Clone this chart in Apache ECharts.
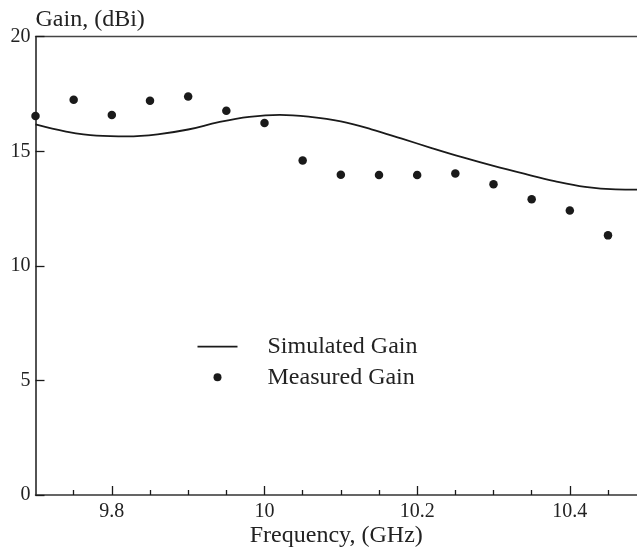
<!DOCTYPE html>
<html>
<head>
<meta charset="utf-8">
<script src="https://cdn.jsdelivr.net/npm/echarts@6/dist/echarts.min.js"></script>
<style>
html,body{margin:0;padding:0;background:#fff;}
#chart{width:637px;height:550px;}
</style>
</head>
<body>
<div id="chart"></div>
<script>
// Simulated gain curve (frequency GHz, gain dBi)
var simFreq = [9.70, 9.74, 9.78, 9.82, 9.86, 9.90, 9.94, 9.98, 10.02, 10.06, 10.10, 10.14, 10.18, 10.22, 10.26, 10.30, 10.34, 10.38, 10.42, 10.46, 10.49];
var simGain = [16.17, 15.86, 15.68, 15.65, 15.74, 15.95, 16.27, 16.50, 16.59, 16.50, 16.30, 15.96, 15.55, 15.13, 14.73, 14.36, 14.02, 13.70, 13.45, 13.34, 13.33];
// Measured gain points
var measFreq = [9.70, 9.75, 9.80, 9.85, 9.90, 9.95, 10.00, 10.05, 10.10, 10.15, 10.20, 10.25, 10.30, 10.35, 10.40, 10.45];
var measGain = [16.54, 17.25, 16.58, 17.20, 17.39, 16.77, 16.23, 14.60, 13.98, 13.96, 13.96, 14.03, 13.56, 12.91, 12.42, 11.33];
// Axis ticks
var xMajorTicks = [9.8, 10.0, 10.2, 10.4];
var xMinorTicks = [9.75, 9.85, 9.9, 9.95, 10.05, 10.1, 10.15, 10.25, 10.3, 10.35, 10.45];
var yTicks = [0, 5, 10, 15, 20];

var FONT = 'Liberation Serif';
var INK = '#1a1a1a';

var simData = simFreq.map(function (f, i) { return [f, simGain[i]]; });
var measData = measFreq.map(function (f, i) { return [f, measGain[i]]; });

var gridBox = {left: 35.5, right: 0, top: 36.7, bottom: 55, containLabel: false, outerBoundsMode: 'none'};
var X_MIN = 9.7, X_MAX = 10.488;

var chart = echarts.init(document.getElementById('chart'), null, {renderer: 'canvas'});
chart.setOption({
  animation: false,
  backgroundColor: '#fff',
  grid: [
    Object.assign({}, gridBox),
    Object.assign({}, gridBox)
  ],
  legend: {
    data: [
      {name: 'Simulated Gain', icon: 'path://M0,0L40,0L40,1.8L0,1.8Z'},
      {name: 'Measured Gain', icon: 'circle'}
    ],
    orient: 'vertical',
    left: 197.5,
    top: 334.7,
    padding: 0,
    itemWidth: 40,
    itemHeight: 8,
    itemGap: 6.6,
    textStyle: {fontFamily: FONT, fontSize: 24, color: '#222', lineHeight: 24, padding: [0, 0, 0, 25]}
  },
  xAxis: [
    {
      type: 'value', gridIndex: 0, min: X_MIN, max: X_MAX,
      name: 'Frequency, (GHz)', nameLocation: 'middle', nameGap: 29, nameMoveOverlap: false,
      nameTextStyle: {fontFamily: FONT, fontSize: 24, color: '#222'},
      axisLine: {show: true, lineStyle: {color: '#333', width: 1.5}},
      axisTick: {show: true, inside: true, length: 9, customValues: xMajorTicks, lineStyle: {color: INK, width: 1.3}},
      axisLabel: {show: true, customValues: xMajorTicks, margin: 7, fontFamily: FONT, fontSize: 20, color: '#222',
        formatter: function (v) { return String(Math.round(v * 10) / 10); }},
      splitLine: {show: false}
    },
    {
      type: 'value', gridIndex: 1, min: X_MIN, max: X_MAX, position: 'bottom',
      axisLine: {show: false},
      axisTick: {show: true, inside: true, length: 5, customValues: xMinorTicks, lineStyle: {color: INK, width: 1.3}},
      axisLabel: {show: false},
      splitLine: {show: false}
    },
    {
      type: 'value', gridIndex: 1, min: X_MIN, max: X_MAX, position: 'top',
      axisLine: {show: true, lineStyle: {color: '#444', width: 1.3}},
      axisTick: {show: false},
      axisLabel: {show: false},
      splitLine: {show: false}
    }
  ],
  yAxis: [
    {
      type: 'value', gridIndex: 0, min: 0, max: 20, interval: 5,
      name: 'Gain, (dBi)', nameLocation: 'end', nameGap: 17, nameMoveOverlap: false,
      nameTextStyle: {fontFamily: FONT, fontSize: 24, color: '#222', align: 'left', verticalAlign: 'middle'},
      axisLine: {show: true, lineStyle: {color: INK, width: 1.5}},
      axisTick: {show: true, inside: true, length: 9, customValues: yTicks, lineStyle: {color: INK, width: 1.3}},
      axisLabel: {show: true, customValues: yTicks, margin: 5, fontFamily: FONT, fontSize: 20, color: '#222'},
      splitLine: {show: false}
    },
    {
      type: 'value', gridIndex: 1, min: 0, max: 20, show: false
    }
  ],
  series: [
    {
      name: 'Simulated Gain', type: 'line', xAxisIndex: 0, yAxisIndex: 0,
      data: simData, smooth: 0.4, symbol: 'none', showSymbol: false,
      lineStyle: {color: INK, width: 1.8}, itemStyle: {color: INK}
    },
    {
      name: 'Measured Gain', type: 'scatter', xAxisIndex: 0, yAxisIndex: 0,
      data: measData, symbol: 'circle', symbolSize: 8.5,
      itemStyle: {color: INK, opacity: 1}
    }
  ]
});
</script>
</body>
</html>
